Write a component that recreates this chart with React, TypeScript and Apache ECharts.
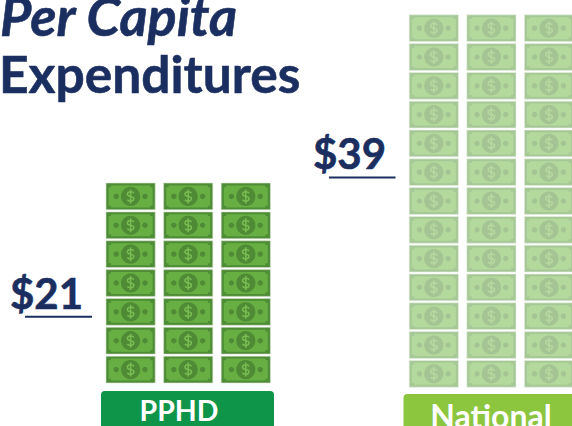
import React, { useEffect, useRef } from "react";
import * as echarts from "echarts";

const categories = ["PPHD", "National"];
const values = [21, 39];
const valueLabels = ["$21", "$39"];
const titleLines = ["Per Capita", "Expenditures"];
const billsPerRow = 3;

const NAVY = "#1A2E5F";
const FONT = "Lato, Carlito, sans-serif";
const palettes = [
  { frame: "#4E8C36", body: "#68AF43", seal: "#4F8A35", mark: "#78BC52", edge: "#D5E3CE" },
  { frame: "#A6C897", body: "#B4D99C", seal: "#A4C494", mark: "#B6D9A0", edge: "#E6EFE1" },
];

function billCells(value: number) {
  const cells: number[][] = [];
  for (let i = 0; i < value; i++) {
    cells.push([i % billsPerRow, Math.floor(i / billsPerRow) * billsPerRow]);
  }
  return cells;
}

function renderBill(p: typeof palettes[0]) {
  return (_: any, api: any) => {
    const col = api.value(0);
    const low = api.value(1);
    const [x0, y0] = api.coord([col, low + billsPerRow]);
    const [w, h] = api.size([1, billsPerRow]);
    const x = x0 + (w - 49.2) / 2;
    const y = y0 + (h - 26.8) / 2;
    const cx = x + 24.6;
    const cy = y + 13.4;
    return {
      type: "group",
      children: [
        { type: "rect", shape: { x, y, width: 49.2, height: 26.8 }, style: { fill: p.frame, stroke: p.edge, lineWidth: 0.6 } },
        {
          type: "polygon",
          shape: {
            points: [
              [x + 5, y + 2.4], [x + 44.2, y + 2.4], [x + 44.2, y + 4.2], [x + 46.6, y + 4.2],
              [x + 46.6, y + 22.6], [x + 44.2, y + 22.6], [x + 44.2, y + 24.4], [x + 5, y + 24.4],
              [x + 5, y + 22.6], [x + 2.6, y + 22.6], [x + 2.6, y + 4.2], [x + 5, y + 4.2],
            ],
          },
          style: { fill: p.body },
        },
        { type: "circle", shape: { cx, cy, r: 9.6 }, style: { fill: p.seal } },
        { type: "circle", shape: { cx: cx - 14.4, cy, r: 2.7 }, style: { fill: p.seal } },
        { type: "circle", shape: { cx: cx + 14.4, cy, r: 2.7 }, style: { fill: p.seal } },
        {
          type: "path",
          shape: {
            pathData: "M3 -3 C2 -5 -3 -5 -3 -2 C-3 1 3 -1 3 2 C3 5 -2 5 -3 3 M0 -6.5 L0 6.5",
            x: cx - 5,
            y: cy - 7,
            width: 10,
            height: 14,
          },
          style: { fill: "none", stroke: p.mark, lineWidth: 1.5 },
        },
      ],
    };
  };
}

const gridBoxes = [
  { left: 101.8, top: 182, width: 172.8, height: 202, outerBoundsMode: "none" },
  { left: 405, top: 13.8, width: 172.8, height: 374.4, outerBoundsMode: "none" },
];
const badges = [
  { x: 101, y: 391, w: 173, h: 40, fill: "#0F9549", tx: 179, ty: 410, size: 28.5 },
  { x: 403.5, y: 394, w: 190, h: 40, fill: "#8CC63F", tx: 491, ty: 415, size: 32 },
];
const amounts = [
  { x: 10, y: 272, lx: 25, lr: 92, ly: 316.7 },
  { x: 313, y: 132, lx: 329, lr: 395.5, ly: 177.6 },
];

export default function App() {
  const ref = useRef<HTMLDivElement>(null);
  useEffect(() => {
    const chart = echarts.init(ref.current!, undefined, { renderer: "svg" });
    const graphic: any[] = [
      { type: "text", style: { text: titleLines[0], x: 0, y: -12, font: `italic bold 54px ${FONT}`, fill: NAVY, stroke: NAVY, lineWidth: 0.6, verticalAlign: "top" } },
      { type: "text", style: { text: titleLines[1], x: -1, y: 47, font: `bold 51.5px ${FONT}`, fill: NAVY, stroke: NAVY, lineWidth: 0.6, verticalAlign: "top" } },
    ];
    categories.forEach((c, i) => {
      const b = badges[i];
      const a = amounts[i];
      graphic.push(
        { type: "rect", shape: { x: b.x, y: b.y, width: b.w, height: b.h, r: 4 }, style: { fill: b.fill } },
        { type: "text", style: { text: c, x: b.tx, y: b.ty, font: `bold ${b.size}px ${FONT}`, fill: "#fff", align: "center", verticalAlign: "middle" } },
        { type: "text", style: { text: valueLabels[i], x: a.x, y: a.y, font: `bold 42px ${FONT}`, fill: NAVY, stroke: NAVY, lineWidth: 0.6, verticalAlign: "top" } },
        { type: "rect", shape: { x: a.lx, y: a.ly - 1, width: a.lr - a.lx, height: 2 }, style: { fill: NAVY } },
      );
    });
    chart.setOption({
      animation: false,
      backgroundColor: "#fff",
      grid: gridBoxes,
      xAxis: gridBoxes.map((_, i) => ({ type: "value", gridIndex: i, min: 0, max: billsPerRow, show: false })),
      yAxis: gridBoxes.map((_, i) => ({ type: "value", gridIndex: i, min: 0, max: values[i], show: false })),
      series: categories.map((c, i) => ({
        type: "custom",
        name: c,
        xAxisIndex: i,
        yAxisIndex: i,
        clip: false,
        silent: true,
        data: billCells(values[i]),
        renderItem: renderBill(palettes[i]),
      })),
      graphic,
    });
    return () => chart.dispose();
  }, []);
  return <div ref={ref} style={{ position: "fixed", left: 0, top: 0, width: 572, height: 426 }} />;
}
